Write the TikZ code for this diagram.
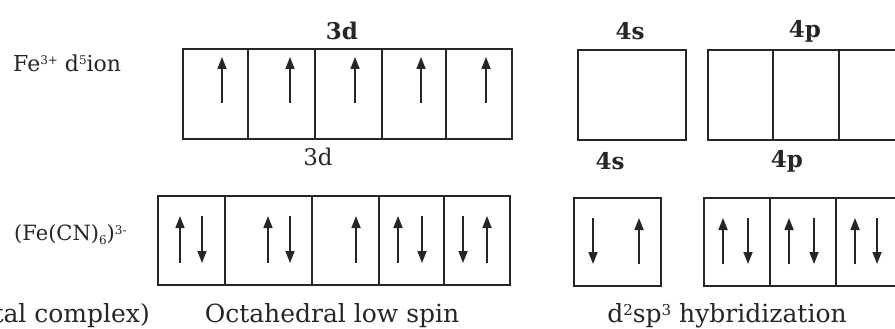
\documentclass[tikz,border=0pt]{standalone}
\usepackage{fontspec}
\setmainfont{DejaVu Serif}
\usetikzlibrary{arrows.meta}
\tikzset{
  cell/.style={draw=black!85, line width=1.3pt, inner sep=0pt, outer sep=0pt, anchor=north west},
  spin/.style={draw=black!85, line width=1.7pt, -{Triangle[width=9pt,length=12pt]}},
  lbl/.style={inner sep=0pt, text=black!85},
  orb/.style={lbl, font=\fontsize{23}{26}\selectfont\bfseries},
  txt/.style={lbl, font=\fontsize{25}{28}\selectfont},
  captext/.style={txt, anchor=base}
}
\newcommand{\upspin}[3]{\draw[spin] (#1,#3) -- (#1,#2);}
\newcommand{\dnspin}[3]{\draw[spin] (#1,#2) -- (#1,#3);}
\newcommand{\ssup}[1]{\raisebox{0.55ex}{\fontsize{12}{12}\selectfont #1}}
\newcommand{\bsup}[1]{\raisebox{0.5ex}{\fontsize{15}{15}\selectfont #1}}
\newcommand{\ssub}[1]{\raisebox{-0.35ex}{\fontsize{12}{12}\selectfont #1}}
\begin{document}
\begin{tikzpicture}[x=1pt,y=-1pt]
\useasboundingbox (0,0) rectangle (895,329);
\clip (0,0) rectangle (895,329);
\fill[white] (0,0) rectangle (895,329);
% ---- top row: Fe3+ ----
\node[txt, font=\fontsize{22}{24}\selectfont, anchor=west] (fe) at (13,63) {Fe\ssup{3+} d\ssup{5}ion};
\node[orb] (t3d) at (342,31) {3d};
\node[orb] (t4s) at (630,31) {4s};
\node[orb] (t4p) at (805,31) {4p};
\node[cell, minimum width=65pt, minimum height=90pt] (ta1) at (183,49) {};
\node[cell, minimum width=67pt, minimum height=90pt] (ta2) at (248,49) {};
\node[cell, minimum width=67pt, minimum height=90pt] (ta3) at (315,49) {};
\node[cell, minimum width=64pt, minimum height=90pt] (ta4) at (382,49) {};
\node[cell, minimum width=66pt, minimum height=90pt] (ta5) at (446,49) {};
\node[cell, minimum width=108pt, minimum height=90pt] (ts) at (578,50) {};
\node[cell, minimum width=65pt, minimum height=90pt] (tp1) at (708,50) {};
\node[cell, minimum width=66pt, minimum height=90pt] (tp2) at (773,50) {};
\node[cell, minimum width=66pt, minimum height=90pt] (tp3) at (839,50) {};
\foreach \x in {222,290,355,421,486} {\upspin{\x}{57}{103}}
% ---- bottom row: [Fe(CN)6]3- ----
\node[txt, font=\fontsize{21}{24}\selectfont, anchor=west] (cx) at (14,235) {(Fe(CN)\ssub{6})\ssup{3-}};
\node[txt, font=\fontsize{23}{26}\selectfont] (b3d) at (318,157) {3d};
\node[orb] (b4s) at (610,161) {4s};
\node[orb] (b4p) at (787,161) {4p};
\node[cell, minimum width=67pt, minimum height=89pt] (ba1) at (158,196) {};
\node[cell, minimum width=87pt, minimum height=89pt] (ba2) at (225,196) {};
\node[cell, minimum width=67pt, minimum height=89pt] (ba3) at (312,196) {};
\node[cell, minimum width=65pt, minimum height=89pt] (ba4) at (379,196) {};
\node[cell, minimum width=66pt, minimum height=89pt] (ba5) at (444,196) {};
\node[cell, minimum width=87pt, minimum height=88pt] (bs) at (574,198) {};
\node[cell, minimum width=66pt, minimum height=88pt] (bp1) at (704,198) {};
\node[cell, minimum width=66pt, minimum height=88pt] (bp2) at (770,198) {};
\node[cell, minimum width=66pt, minimum height=88pt] (bp3) at (836,198) {};
% spins
\upspin{180}{216}{263} \dnspin{202}{216}{263}
\upspin{268}{216}{263} \dnspin{290}{216}{263}
\upspin{356}{216}{263}
\upspin{398}{216}{263} \dnspin{422}{216}{263}
\dnspin{463}{216}{263} \upspin{487}{216}{263}
\dnspin{593}{218}{264} \upspin{639}{218}{264}
\upspin{723}{218}{264} \dnspin{748}{218}{264}
\upspin{789}{218}{264} \dnspin{814}{218}{264}
\upspin{855}{218}{264} \dnspin{877}{218}{264}
% ---- captions ----
\node[captext, anchor=base east] (cap1) at (150,322) {tal complex)};
\node[captext] (cap2) at (332,322) {Octahedral low spin};
\node[captext] (cap3) at (727,322) {d\bsup{2}sp\bsup{3} hybridization};
\end{tikzpicture}
\end{document}
